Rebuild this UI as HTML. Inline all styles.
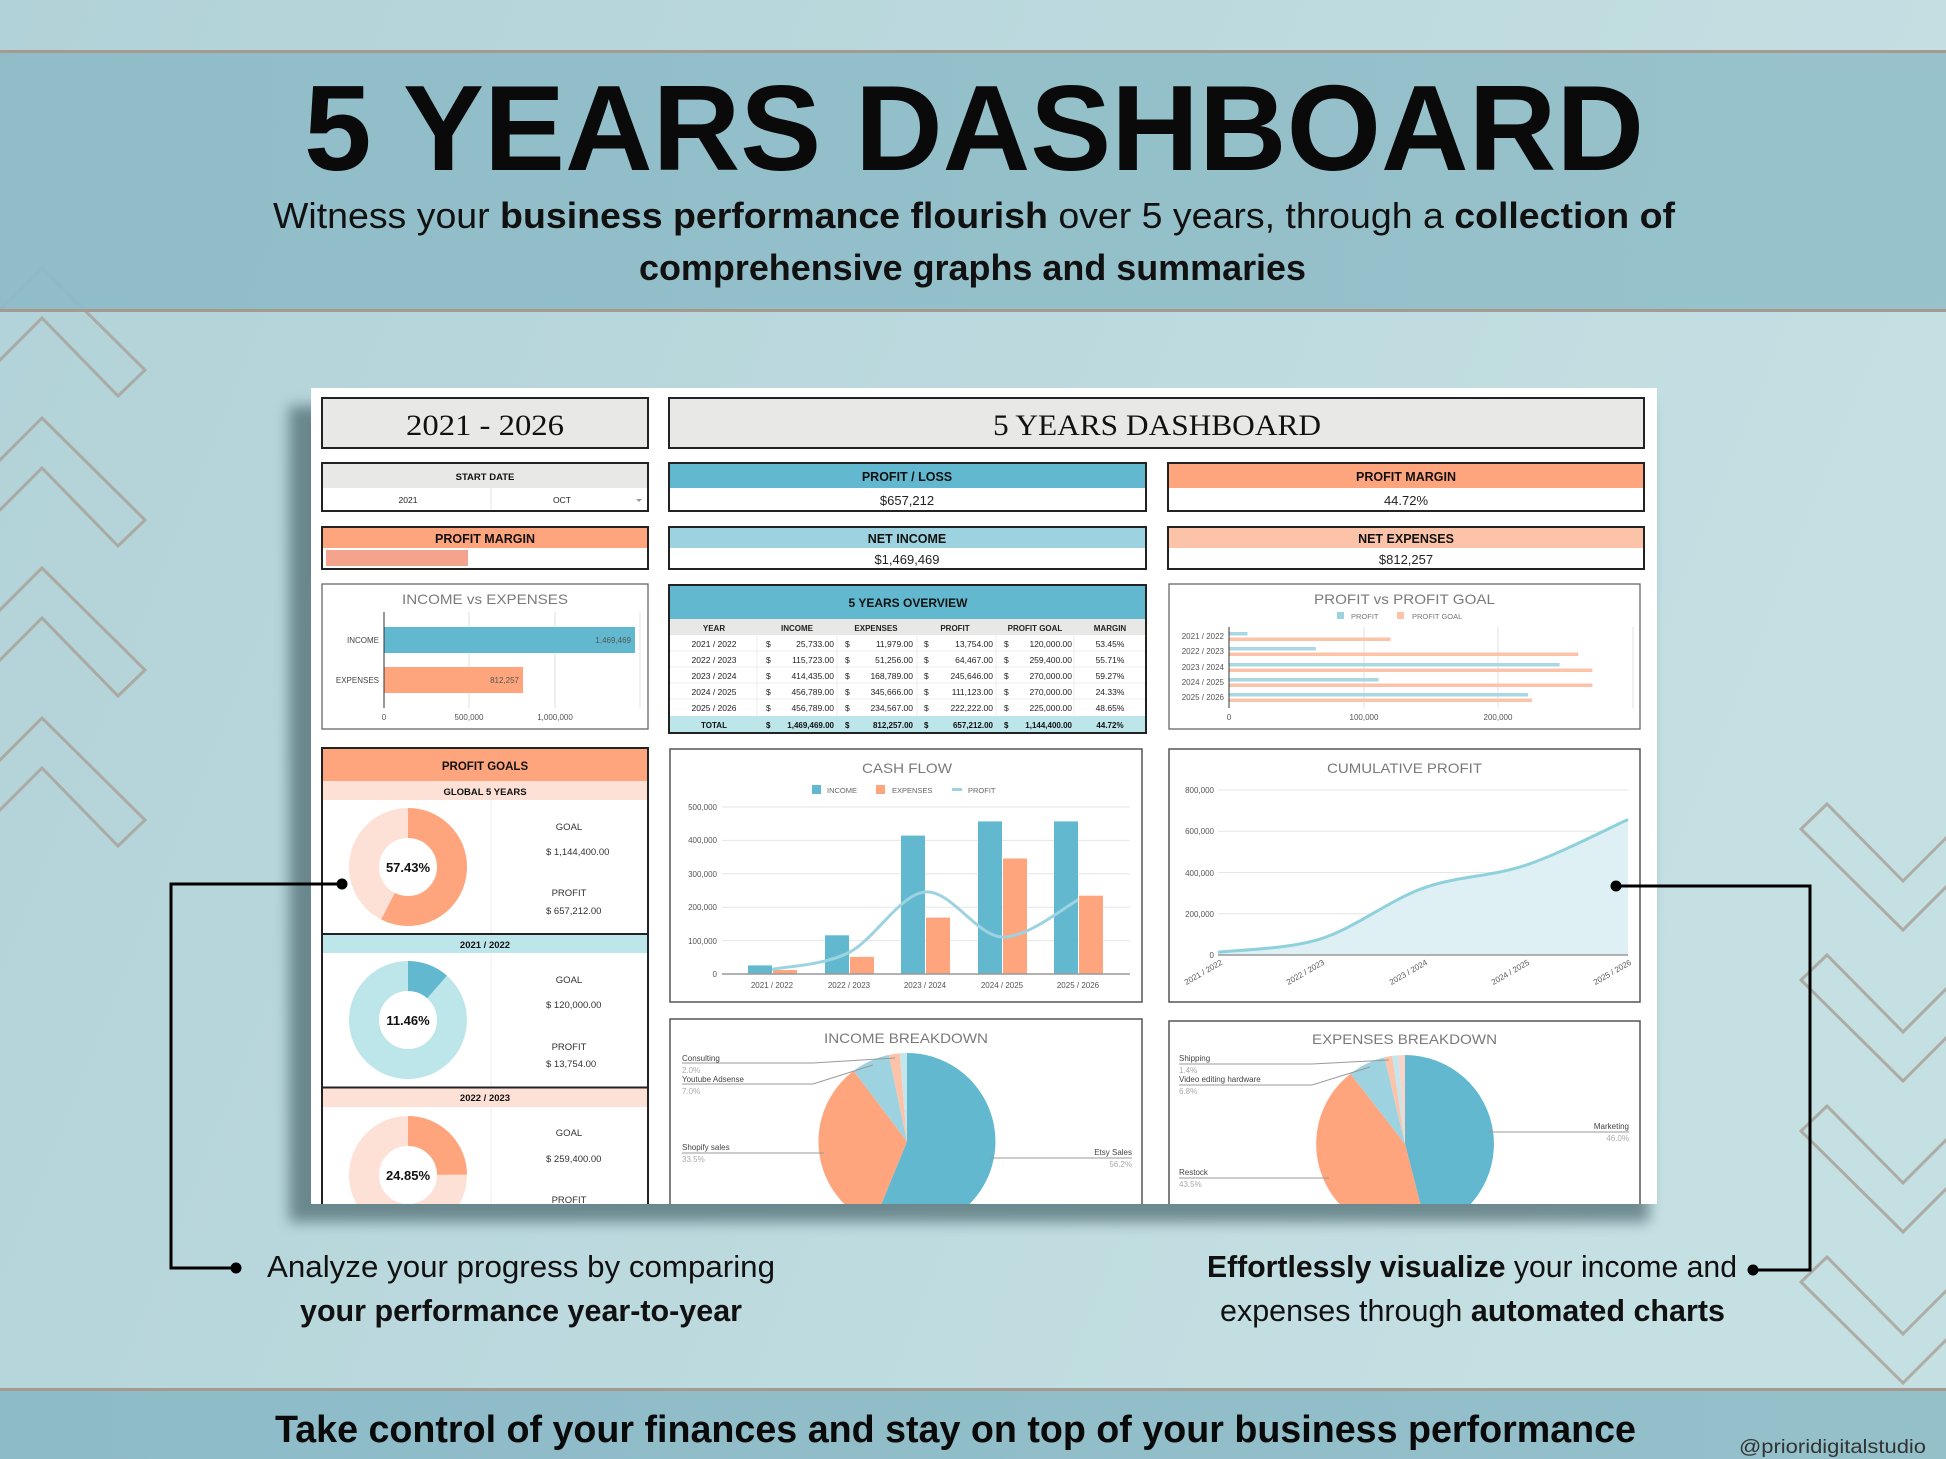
<!DOCTYPE html>
<html><head><meta charset="utf-8"><style>
html,body{margin:0;padding:0;width:1946px;height:1459px;overflow:hidden;background:#b8d7dc;}
svg{display:block;}
</style></head><body>
<svg width="1946" height="1459" viewBox="0 0 1946 1459" xmlns="http://www.w3.org/2000/svg" font-family="Liberation Sans, Arial, sans-serif">
<defs>
<linearGradient id="bg" x1="0" y1="0" x2="1" y2="0.3"><stop offset="0" stop-color="#b1d2d8"/><stop offset="1" stop-color="#c5e0e3"/></linearGradient>
<linearGradient id="band" x1="0" y1="0" x2="1" y2="0"><stop offset="0" stop-color="#8dbbc7"/><stop offset="1" stop-color="#94c0ca"/></linearGradient>
<filter id="sh" x="-10%" y="-10%" width="120%" height="130%"><feGaussianBlur stdDeviation="7"/></filter>
<clipPath id="pc"><rect x="311" y="388" width="1346" height="816"/></clipPath>
</defs>
<rect width="1946" height="1459" fill="url(#bg)"/>
<!-- left chevrons -->
<g fill="none" stroke="#a9a69e" stroke-width="3" stroke-linejoin="miter" opacity="0.9">
<polyline points="-5,315 42,268 145,370 118,396 42,318 -5,365"/>
<polyline points="-5,465 42,418 145,520 118,546 42,468 -5,515"/>
<polyline points="-5,615 42,568 145,670 118,696 42,618 -5,665"/>
<polyline points="-5,765 42,718 145,820 118,846 42,768 -5,815"/>
</g>
<!-- right chevrons -->
<g fill="none" stroke="#aaa79f" stroke-width="3" opacity="0.9">
<polyline points="1951,833 1903,881 1827,804 1801,829 1903,930 1951,882"/>
<polyline points="1951,984 1903,1032 1827,955 1801,980 1903,1081 1951,1033"/>
<polyline points="1951,1135 1903,1183 1827,1106 1801,1131 1903,1232 1951,1184"/>
<polyline points="1951,1286 1903,1334 1827,1257 1801,1282 1903,1383 1951,1335"/>
</g>
<!-- top band -->
<rect x="0" y="52" width="1946" height="259" fill="url(#band)" fill-opacity="0.93"/>
<rect x="0" y="50" width="1946" height="3" fill="#a59a8f"/>
<rect x="0" y="309" width="1946" height="3" fill="#a59a8f"/>
<text x="304" y="170" font-size="122" font-weight="bold" fill="#0a0a0a" textLength="1340" lengthAdjust="spacingAndGlyphs">5 YEARS DASHBOARD</text>
<text x="273" y="228" font-size="36" fill="#111" textLength="1402" lengthAdjust="spacingAndGlyphs">Witness your <tspan font-weight="bold">business performance flourish</tspan> over 5 years, through a <tspan font-weight="bold">collection of</tspan></text>
<text x="639" y="280" font-size="36" font-weight="bold" fill="#111" textLength="667" lengthAdjust="spacingAndGlyphs">comprehensive graphs and summaries</text>
<!-- bottom band -->
<rect x="0" y="1391" width="1946" height="68" fill="url(#band)"/>
<rect x="0" y="1388" width="1946" height="3" fill="#a59a8f"/>
<text x="275" y="1442" font-size="38" font-weight="bold" fill="#0a0a0a" textLength="1361" lengthAdjust="spacingAndGlyphs">Take control of your finances and stay on top of your business performance</text>
<text x="1739" y="1453" font-size="19" fill="#333" textLength="187" lengthAdjust="spacingAndGlyphs">@prioridigitalstudio</text>
<!-- annotation text -->
<text x="267" y="1277" font-size="31" fill="#111" textLength="508" lengthAdjust="spacingAndGlyphs">Analyze your progress by comparing</text>
<text x="300" y="1321" font-size="31" font-weight="bold" fill="#111" textLength="442" lengthAdjust="spacingAndGlyphs">your performance year-to-year</text>
<text x="1207" y="1277" font-size="31" fill="#111" textLength="530" lengthAdjust="spacingAndGlyphs"><tspan font-weight="bold">Effortlessly visualize</tspan> your income and</text>
<text x="1220" y="1321" font-size="31" fill="#111" textLength="505" lengthAdjust="spacingAndGlyphs">expenses through <tspan font-weight="bold">automated charts</tspan></text>
<!-- panel shadow -->
<rect x="289" y="406" width="1360" height="816" fill="#3f5d63" opacity="0.65" filter="url(#sh)"/>
<rect x="311" y="388" width="1346" height="816" fill="#ffffff"/>
<g clip-path="url(#pc)">
<!-- row 1 -->
<rect x="322" y="398" width="326" height="50" fill="#e8e9e6" stroke="#222" stroke-width="2"/>
<text x="406" y="435" font-family="Liberation Serif, serif" font-size="30" fill="#111" textLength="158" lengthAdjust="spacingAndGlyphs">2021 - 2026</text>
<rect x="669" y="398" width="975" height="50" fill="#e8e9e6" stroke="#222" stroke-width="2"/>
<text x="993" y="435" font-family="Liberation Serif, serif" font-size="30" fill="#111" textLength="328" lengthAdjust="spacingAndGlyphs">5 YEARS DASHBOARD</text>
<!-- row 2 -->
<rect x="322" y="463" width="326" height="25" fill="#e8e9e6"/>
<line x1="491" y1="488" x2="491" y2="511" stroke="#e6e6e6"/>
<rect x="322" y="463" width="326" height="48" fill="none" stroke="#222" stroke-width="2"/>
<text x="485" y="480" font-size="9.5" font-weight="bold" text-anchor="middle" fill="#111">START DATE</text>
<text x="408" y="503" font-size="8.5" text-anchor="middle" fill="#222">2021</text>
<text x="562" y="503" font-size="8.5" text-anchor="middle" fill="#222">OCT</text>
<path d="M636,499 l6,0 l-3,3z" fill="#999"/>
<rect x="669" y="463" width="477" height="25" fill="#62b9cf"/>
<rect x="669" y="463" width="477" height="48" fill="none" stroke="#222" stroke-width="2"/>
<text x="907" y="481" font-size="12.5" font-weight="bold" text-anchor="middle" fill="#111">PROFIT / LOSS</text>
<text x="907" y="505" font-size="13" text-anchor="middle" fill="#222">$657,212</text>
<rect x="1168" y="463" width="476" height="25" fill="#fea57e"/>
<rect x="1168" y="463" width="476" height="48" fill="none" stroke="#222" stroke-width="2"/>
<text x="1406" y="481" font-size="12.5" font-weight="bold" text-anchor="middle" fill="#111">PROFIT MARGIN</text>
<text x="1406" y="505" font-size="13" text-anchor="middle" fill="#222">44.72%</text>
<!-- row 3 -->
<rect x="322" y="527" width="326" height="21" fill="#fea57e"/>
<rect x="326" y="550" width="142" height="16" fill="#f4a38c"/>
<rect x="322" y="527" width="326" height="42" fill="none" stroke="#222" stroke-width="2"/>
<text x="485" y="543" font-size="12.5" font-weight="bold" text-anchor="middle" fill="#111">PROFIT MARGIN</text>
<rect x="669" y="527" width="477" height="21" fill="#9dd3e0"/>
<rect x="669" y="527" width="477" height="42" fill="none" stroke="#222" stroke-width="2"/>
<text x="907" y="543" font-size="12.5" font-weight="bold" text-anchor="middle" fill="#111">NET INCOME</text>
<text x="907" y="564" font-size="13" text-anchor="middle" fill="#222">$1,469,469</text>
<rect x="1168" y="527" width="476" height="21" fill="#fdc3a8"/>
<rect x="1168" y="527" width="476" height="42" fill="none" stroke="#222" stroke-width="2"/>
<text x="1406" y="543" font-size="12.5" font-weight="bold" text-anchor="middle" fill="#111">NET EXPENSES</text>
<text x="1406" y="564" font-size="13" text-anchor="middle" fill="#222">$812,257</text>

<!-- INCOME vs EXPENSES -->
<rect x="322" y="584" width="326" height="145" fill="#fff" stroke="#666" stroke-width="1.3"/>
<text x="402" y="604" font-size="14" fill="#7a7a7a" textLength="166" lengthAdjust="spacingAndGlyphs">INCOME vs EXPENSES</text>
<g stroke="#e2e2e2"><line x1="469" y1="612" x2="469" y2="708"/><line x1="555" y1="612" x2="555" y2="708"/><line x1="640" y1="612" x2="640" y2="708"/></g>
<rect x="384" y="627" width="251" height="26" fill="#62b9cf"/>
<rect x="384" y="667" width="139" height="26" fill="#fea57e"/>
<line x1="384" y1="612" x2="384" y2="708" stroke="#333"/>
<g font-size="8" fill="#555">
<text x="631" y="643" text-anchor="end">1,469,469</text>
<text x="519" y="683" text-anchor="end">812,257</text>
<text x="379" y="643" text-anchor="end" fill="#444">INCOME</text>
<text x="379" y="683" text-anchor="end" fill="#444">EXPENSES</text>
<text x="384" y="720" text-anchor="middle">0</text>
<text x="469" y="720" text-anchor="middle">500,000</text>
<text x="555" y="720" text-anchor="middle">1,000,000</text>
</g>

<!-- 5 YEARS OVERVIEW table -->
<rect x="669" y="585" width="477" height="34" fill="#62b9cf"/>
<rect x="669" y="619" width="477" height="16" fill="#e8e9e6"/>
<rect x="669" y="716" width="477" height="17" fill="#bde6ea"/>
<g stroke="#ececec"><line x1="669" y1="651" x2="1146" y2="651"/><line x1="669" y1="667" x2="1146" y2="667"/><line x1="669" y1="683" x2="1146" y2="683"/><line x1="669" y1="699" x2="1146" y2="699"/>
<line x1="757" y1="635" x2="757" y2="716"/><line x1="837" y1="635" x2="837" y2="716"/><line x1="917" y1="635" x2="917" y2="716"/><line x1="996" y1="635" x2="996" y2="716"/><line x1="1074" y1="635" x2="1074" y2="716"/></g>
<rect x="669" y="585" width="477" height="148" fill="none" stroke="#222" stroke-width="2"/>
<text x="908" y="607" font-size="12" font-weight="bold" text-anchor="middle" fill="#111">5 YEARS OVERVIEW</text>
<g font-size="8" font-weight="bold" fill="#222" text-anchor="middle">
<text x="714" y="631">YEAR</text><text x="797" y="631">INCOME</text><text x="876" y="631">EXPENSES</text><text x="955" y="631">PROFIT</text><text x="1035" y="631">PROFIT GOAL</text><text x="1110" y="631">MARGIN</text>
</g>
<g font-size="8.5" fill="#222">
<g text-anchor="middle"><text x="714" y="647">2021 / 2022</text><text x="714" y="663">2022 / 2023</text><text x="714" y="679">2023 / 2024</text><text x="714" y="695">2024 / 2025</text><text x="714" y="711">2025 / 2026</text>
<text x="1110" y="647">53.45%</text><text x="1110" y="663">55.71%</text><text x="1110" y="679">59.27%</text><text x="1110" y="695">24.33%</text><text x="1110" y="711">48.65%</text></g>
<g><text x="766" y="647">$</text><text x="766" y="663">$</text><text x="766" y="679">$</text><text x="766" y="695">$</text><text x="766" y="711">$</text>
<text x="845" y="647">$</text><text x="845" y="663">$</text><text x="845" y="679">$</text><text x="845" y="695">$</text><text x="845" y="711">$</text>
<text x="924" y="647">$</text><text x="924" y="663">$</text><text x="924" y="679">$</text><text x="924" y="695">$</text><text x="924" y="711">$</text>
<text x="1004" y="647">$</text><text x="1004" y="663">$</text><text x="1004" y="679">$</text><text x="1004" y="695">$</text><text x="1004" y="711">$</text></g>
<g text-anchor="end">
<text x="834" y="647">25,733.00</text><text x="834" y="663">115,723.00</text><text x="834" y="679">414,435.00</text><text x="834" y="695">456,789.00</text><text x="834" y="711">456,789.00</text>
<text x="913" y="647">11,979.00</text><text x="913" y="663">51,256.00</text><text x="913" y="679">168,789.00</text><text x="913" y="695">345,666.00</text><text x="913" y="711">234,567.00</text>
<text x="993" y="647">13,754.00</text><text x="993" y="663">64,467.00</text><text x="993" y="679">245,646.00</text><text x="993" y="695">111,123.00</text><text x="993" y="711">222,222.00</text>
<text x="1072" y="647">120,000.00</text><text x="1072" y="663">259,400.00</text><text x="1072" y="679">270,000.00</text><text x="1072" y="695">270,000.00</text><text x="1072" y="711">225,000.00</text>
</g>
</g>
<g font-size="8" font-weight="bold" fill="#111">
<text x="714" y="728" text-anchor="middle">TOTAL</text>
<text x="766" y="728">$</text><text x="845" y="728">$</text><text x="924" y="728">$</text><text x="1004" y="728">$</text>
<text x="834" y="728" text-anchor="end">1,469,469.00</text><text x="913" y="728" text-anchor="end">812,257.00</text><text x="993" y="728" text-anchor="end">657,212.00</text><text x="1072" y="728" text-anchor="end">1,144,400.00</text>
<text x="1110" y="728" text-anchor="middle">44.72%</text>
</g>

<!-- PROFIT vs PROFIT GOAL -->
<rect x="1169" y="584" width="471" height="145" fill="#fff" stroke="#666" stroke-width="1.3"/>
<text x="1314" y="604" font-size="14" fill="#7a7a7a" textLength="181" lengthAdjust="spacingAndGlyphs">PROFIT vs PROFIT GOAL</text>
<rect x="1337" y="612" width="7" height="7" fill="#9dd3e0"/><text x="1351" y="619" font-size="7.5" fill="#777">PROFIT</text>
<rect x="1397" y="612" width="7" height="7" fill="#fdc3a8"/><text x="1412" y="619" font-size="7.5" fill="#777">PROFIT GOAL</text>
<g stroke="#e2e2e2"><line x1="1364" y1="627" x2="1364" y2="708"/><line x1="1498" y1="627" x2="1498" y2="708"/><line x1="1633" y1="627" x2="1633" y2="708"/></g>
<g fill="#a6d9e4">
<rect x="1229" y="632" width="18.5" height="3.5"/><rect x="1229" y="647" width="86.8" height="3.5"/><rect x="1229" y="663" width="330.6" height="3.5"/><rect x="1229" y="678" width="149.6" height="3.5"/><rect x="1229" y="693" width="299.1" height="3.5"/>
</g>
<g fill="#fdc3a8">
<rect x="1229" y="637.5" width="161.5" height="3.5"/><rect x="1229" y="652.5" width="349.2" height="3.5"/><rect x="1229" y="668.5" width="363.4" height="3.5"/><rect x="1229" y="683.5" width="363.4" height="3.5"/><rect x="1229" y="698.5" width="302.9" height="3.5"/>
</g>
<line x1="1229" y1="627" x2="1229" y2="708" stroke="#333"/>
<g font-size="8" fill="#555" text-anchor="end">
<text x="1224" y="639">2021 / 2022</text><text x="1224" y="654">2022 / 2023</text><text x="1224" y="670">2023 / 2024</text><text x="1224" y="685">2024 / 2025</text><text x="1224" y="700">2025 / 2026</text>
</g>
<g font-size="8" fill="#555" text-anchor="middle"><text x="1229" y="720">0</text><text x="1364" y="720">100,000</text><text x="1498" y="720">200,000</text></g>

<!-- PROFIT GOALS -->
<rect x="322" y="748" width="326" height="33" fill="#fea57e"/>
<rect x="322" y="781" width="326" height="19" fill="#fde0d6"/>
<rect x="322" y="935" width="326" height="18" fill="#bde6ea"/>
<rect x="322" y="1088" width="326" height="19" fill="#fde0d6"/>
<g stroke="#ececec"><line x1="491" y1="800" x2="491" y2="933"/><line x1="491" y1="953" x2="491" y2="1087"/><line x1="491" y1="1107" x2="491" y2="1210"/></g>
<line x1="322" y1="934" x2="648" y2="934" stroke="#222" stroke-width="2"/>
<line x1="322" y1="1087.5" x2="648" y2="1087.5" stroke="#222" stroke-width="2"/>
<rect x="322" y="748" width="326" height="470" fill="none" stroke="#222" stroke-width="2"/>
<text x="485" y="770" font-size="11.5" font-weight="bold" text-anchor="middle" fill="#111">PROFIT GOALS</text>
<text x="485" y="795" font-size="9.5" font-weight="bold" text-anchor="middle" fill="#111">GLOBAL 5 YEARS</text>
<text x="485" y="948" font-size="9.5" font-weight="bold" text-anchor="middle" fill="#111">2021 / 2022</text>
<text x="485" y="1101" font-size="9.5" font-weight="bold" text-anchor="middle" fill="#111">2022 / 2023</text>
<!-- donuts -->
<circle cx="408" cy="867" r="44" fill="none" stroke="#fde0d6" stroke-width="30"/>
<circle cx="408" cy="867" r="44" fill="none" stroke="#fea57e" stroke-width="30" stroke-dasharray="158.77 300" transform="rotate(-90 408 867)"/>
<circle cx="408" cy="1020" r="44" fill="none" stroke="#bde6ea" stroke-width="30"/>
<circle cx="408" cy="1020" r="44" fill="none" stroke="#62b9cf" stroke-width="30" stroke-dasharray="31.68 300" transform="rotate(-90 408 1020)"/>
<circle cx="408" cy="1175" r="44" fill="none" stroke="#fde0d6" stroke-width="30"/>
<circle cx="408" cy="1175" r="44" fill="none" stroke="#fea57e" stroke-width="30" stroke-dasharray="68.70 300" transform="rotate(-90 408 1175)"/>
<g font-size="13" font-weight="bold" text-anchor="middle" fill="#111">
<text x="408" y="872">57.43%</text><text x="408" y="1025">11.46%</text><text x="408" y="1180">24.85%</text>
</g>
<g font-size="9.5" fill="#333">
<text x="569" y="830" text-anchor="middle">GOAL</text><text x="546" y="855">$ 1,144,400.00</text>
<text x="569" y="896" text-anchor="middle">PROFIT</text><text x="546" y="914">$ 657,212.00</text>
<text x="569" y="983" text-anchor="middle">GOAL</text><text x="546" y="1008">$ 120,000.00</text>
<text x="569" y="1050" text-anchor="middle">PROFIT</text><text x="546" y="1067">$ 13,754.00</text>
<text x="569" y="1136" text-anchor="middle">GOAL</text><text x="546" y="1162">$ 259,400.00</text>
<text x="569" y="1203" text-anchor="middle">PROFIT</text>
</g>

<!-- CASH FLOW -->
<rect x="670" y="749" width="472" height="253" fill="#fff" stroke="#555" stroke-width="1.5"/>
<text x="862" y="773" font-size="14" fill="#7a7a7a" textLength="90" lengthAdjust="spacingAndGlyphs">CASH FLOW</text>
<rect x="812" y="785" width="9" height="9" fill="#62b9cf"/><text x="827" y="793" font-size="7.5" fill="#666">INCOME</text>
<rect x="876" y="785" width="9" height="9" fill="#fea57e"/><text x="892" y="793" font-size="7.5" fill="#666">EXPENSES</text>
<line x1="952" y1="789.5" x2="962" y2="789.5" stroke="#9dd3e0" stroke-width="3"/><text x="968" y="793" font-size="7.5" fill="#666">PROFIT</text>
<g stroke="#e6e6e6"><line x1="722" y1="807" x2="1130" y2="807"/><line x1="722" y1="840.4" x2="1130" y2="840.4"/><line x1="722" y1="873.8" x2="1130" y2="873.8"/><line x1="722" y1="907.2" x2="1130" y2="907.2"/><line x1="722" y1="940.6" x2="1130" y2="940.6"/></g>
<g font-size="8" fill="#555" text-anchor="end">
<text x="717" y="810">500,000</text><text x="717" y="843">400,000</text><text x="717" y="877">300,000</text><text x="717" y="910">200,000</text><text x="717" y="944">100,000</text><text x="717" y="977">0</text>
</g>
<g fill="#62b9cf">
<rect x="748" y="965.4" width="24" height="8.6"/><rect x="825" y="935.3" width="24" height="38.7"/><rect x="901" y="835.6" width="24" height="138.4"/><rect x="978" y="821.4" width="24" height="152.6"/><rect x="1054" y="821.4" width="24" height="152.6"/>
</g>
<g fill="#fea57e">
<rect x="773" y="970" width="24" height="4"/><rect x="850" y="956.9" width="24" height="17.1"/><rect x="926" y="917.6" width="24" height="56.4"/><rect x="1003" y="858.5" width="24" height="115.5"/><rect x="1079" y="895.7" width="24" height="78.3"/>
</g>
<line x1="722" y1="974" x2="1130" y2="974" stroke="#999" stroke-width="1.5"/>
<path d="M772,969.4 C784.8,966.6 823.5,965.4 849,952.5 C874.5,939.6 899.5,894.6 925,892 C950.5,889.4 976.5,935.7 1002,937 C1027.5,938.3 1065.3,906.2 1078,900" fill="none" stroke="#9dd3e0" stroke-width="3"/>
<g font-size="8" fill="#555" text-anchor="middle">
<text x="772" y="988">2021 / 2022</text><text x="849" y="988">2022 / 2023</text><text x="925" y="988">2023 / 2024</text><text x="1002" y="988">2024 / 2025</text><text x="1078" y="988">2025 / 2026</text>
</g>

<!-- CUMULATIVE PROFIT -->
<rect x="1169" y="749" width="471" height="253" fill="#fff" stroke="#555" stroke-width="1.5"/>
<text x="1327" y="773" font-size="14" fill="#7a7a7a" textLength="155" lengthAdjust="spacingAndGlyphs">CUMULATIVE PROFIT</text>
<g stroke="#e6e6e6"><line x1="1218" y1="790" x2="1628" y2="790"/><line x1="1218" y1="831.25" x2="1628" y2="831.25"/><line x1="1218" y1="872.5" x2="1628" y2="872.5"/><line x1="1218" y1="913.75" x2="1628" y2="913.75"/></g>
<g font-size="8" fill="#555" text-anchor="end">
<text x="1214" y="793">800,000</text><text x="1214" y="834">600,000</text><text x="1214" y="876">400,000</text><text x="1214" y="917">200,000</text><text x="1214" y="958">0</text>
</g>
<path d="M1218,952.2 C1235.1,950 1286.3,949.6 1320.5,938.9 C1354.7,928.2 1388.8,900.5 1423,888.2 C1457.2,875.9 1491.3,876.75 1525.5,865.3 C1559.7,853.85 1610.9,827.1 1628,819.5 L1628,955 L1218,955 Z" fill="#dff0f4"/>
<path d="M1218,952.2 C1235.1,950 1286.3,949.6 1320.5,938.9 C1354.7,928.2 1388.8,900.5 1423,888.2 C1457.2,875.9 1491.3,876.75 1525.5,865.3 C1559.7,853.85 1610.9,827.1 1628,819.5" fill="none" stroke="#8fd0dd" stroke-width="3"/>
<line x1="1218" y1="955" x2="1628" y2="955" stroke="#999" stroke-width="1.5"/>
<g font-size="8" fill="#555" text-anchor="end">
<text transform="translate(1223,964) rotate(-30)">2021 / 2022</text>
<text transform="translate(1325,964) rotate(-30)">2022 / 2023</text>
<text transform="translate(1428,964) rotate(-30)">2023 / 2024</text>
<text transform="translate(1530,964) rotate(-30)">2024 / 2025</text>
<text transform="translate(1632,964) rotate(-30)">2025 / 2026</text>
</g>

<!-- INCOME BREAKDOWN -->
<rect x="670" y="1019" width="472" height="220" fill="#fff" stroke="#555" stroke-width="1.5"/>
<text x="824" y="1043" font-size="14" fill="#7a7a7a" textLength="164" lengthAdjust="spacingAndGlyphs">INCOME BREAKDOWN</text>
<path d="M907,1141.5 L907,1053 A88.5,88.5 0 1 1 873.4,1223.4 Z" fill="#62b9cf"/>
<path d="M907,1141.5 L873.4,1223.4 A88.5,88.5 0 0 1 853.6,1070.9 Z" fill="#fea57e"/>
<path d="M907,1141.5 L853.6,1070.9 A88.5,88.5 0 0 1 888.8,1054.9 Z" fill="#9dd3e0"/>
<path d="M907,1141.5 L888.8,1054.9 A88.5,88.5 0 0 1 899.8,1053.3 Z" fill="#fdc3a8"/>
<path d="M907,1141.5 L899.8,1053.3 A88.5,88.5 0 0 1 907,1053 Z" fill="#c3e6ec"/>
<g fill="none" stroke="#999" stroke-width="1">
<polyline points="682,1063 813,1063 895,1058"/>
<polyline points="682,1084 813,1084 873,1065"/>
<polyline points="682,1153 824,1153"/>
<polyline points="990,1158 1132,1158"/>
</g>
<g font-size="8" fill="#444">
<text x="682" y="1061">Consulting</text><text x="682" y="1082">Youtube Adsense</text><text x="682" y="1150">Shopify sales</text><text x="1132" y="1155" text-anchor="end">Etsy Sales</text>
</g>
<g font-size="8" fill="#aaa">
<text x="682" y="1073">2.0%</text><text x="682" y="1094">7.0%</text><text x="682" y="1162">33.5%</text><text x="1132" y="1167" text-anchor="end">56.2%</text>
</g>

<!-- EXPENSES BREAKDOWN -->
<rect x="1169" y="1021" width="471" height="220" fill="#fff" stroke="#555" stroke-width="1.5"/>
<text x="1312" y="1044" font-size="14" fill="#7a7a7a" textLength="185" lengthAdjust="spacingAndGlyphs">EXPENSES BREAKDOWN</text>
<path d="M1405,1144 L1405,1055 A89,89 0 0 1 1427.1,1230.2 Z" fill="#62b9cf"/>
<path d="M1405,1144 L1427.1,1230.2 A89,89 0 0 1 1350.5,1073.7 Z" fill="#fea57e"/>
<path d="M1405,1144 L1350.5,1073.7 A89,89 0 0 1 1384.5,1057.4 Z" fill="#9dd3e0"/>
<path d="M1405,1144 L1384.5,1057.4 A89,89 0 0 1 1392.2,1055.9 Z" fill="#fdc3a8"/>
<path d="M1405,1144 L1392.2,1055.9 A89,89 0 0 1 1398.3,1055.2 Z" fill="#c3e6ec"/>
<path d="M1405,1144 L1398.3,1055.2 A89,89 0 0 1 1405,1055 Z" fill="#f9d3c7"/>
<g fill="none" stroke="#999" stroke-width="1">
<polyline points="1179,1064 1312,1064 1389,1060"/>
<polyline points="1179,1085 1312,1085 1370,1067"/>
<polyline points="1487,1132 1629,1132"/>
<polyline points="1179,1178 1329,1178"/>
</g>
<g font-size="8" fill="#444">
<text x="1179" y="1061">Shipping</text><text x="1179" y="1082">Video editing hardware</text><text x="1629" y="1129" text-anchor="end">Marketing</text><text x="1179" y="1175">Restock</text>
</g>
<g font-size="8" fill="#aaa">
<text x="1179" y="1073">1.4%</text><text x="1179" y="1094">6.8%</text><text x="1629" y="1141" text-anchor="end">46.0%</text><text x="1179" y="1187">43.5%</text>
</g>
</g>
<!-- connectors -->
<g stroke="#000" stroke-width="3" fill="none">
<polyline points="342,884 171,884 171,1268 236,1268"/>
<polyline points="1616,886 1810,886 1810,1270 1753,1270"/>
</g>
<g fill="#000">
<circle cx="342" cy="884" r="5.5"/><circle cx="236" cy="1268" r="5.5"/>
<circle cx="1616" cy="886" r="5.5"/><circle cx="1753" cy="1270" r="5.5"/>
</g>
</svg>
</body></html>
